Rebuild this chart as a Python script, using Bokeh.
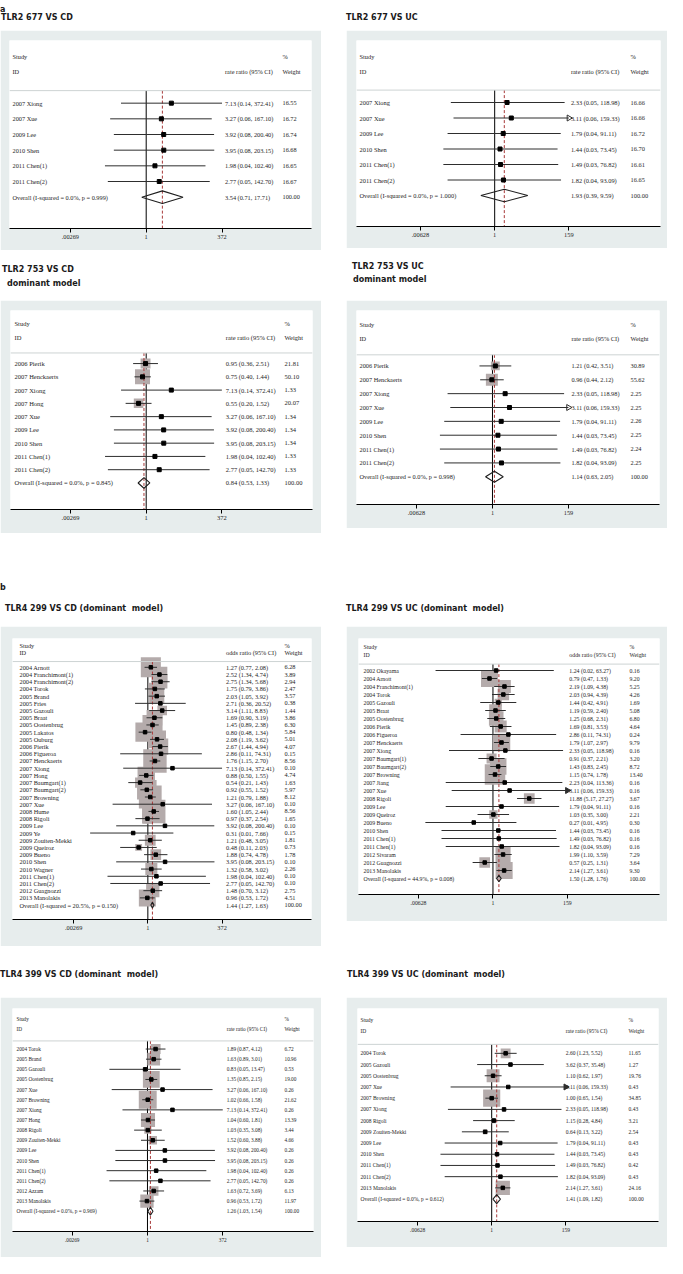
import numpy as np
from bokeh.plotting import figure
from bokeh.models import (Range1d, FixedTicker, CustomJSTickFormatter, ColumnDataSource,
                          Div, Spacer, Span)
from bokeh.layouts import column, row
from bokeh.core.properties import value
from bokeh.embed import file_html
from bokeh.resources import INLINE

# ---------------- data ----------------
# TLR2 677 VS CD
p1_study = ["2007 Xiong", "2007 Xue", "2009 Lee", "2010 Shen", "2011 Chen(1)", "2011 Chen(2)"]
p1_es = [7.13, 3.27, 3.92, 3.95, 1.98, 2.77]
p1_lo = [0.14, 0.06, 0.08, 0.08, 0.04, 0.05]
p1_hi = [372.41, 167.10, 200.40, 203.15, 102.40, 142.70]
p1_w = [16.55, 16.72, 16.74, 16.68, 16.65, 16.67]
p1_overall = [3.54, 0.71, 17.71]
p1_het = [0.0, 0.999]

# TLR2 677 VS UC
p2_study = ["2007 Xiong", "2007 Xue", "2009 Lee", "2010 Shen", "2011 Chen(1)", "2011 Chen(2)"]
p2_es = [2.33, 3.11, 1.79, 1.44, 1.49, 1.82]
p2_lo = [0.05, 0.06, 0.04, 0.03, 0.03, 0.04]
p2_hi = [118.98, 159.33, 91.11, 73.45, 76.82, 93.09]
p2_w = [16.66, 16.66, 16.72, 16.70, 16.61, 16.65]
p2_overall = [1.93, 0.39, 9.59]
p2_het = [0.0, 1.000]

# TLR2 753 VS CD
p3_study = ["2006 Pierik", "2007 Henckaerts", "2007 Xiong", "2007 Hong", "2007 Xue", "2009 Lee",
            "2010 Shen", "2011 Chen(1)", "2011 Chen(2)"]
p3_es = [0.95, 0.75, 7.13, 0.55, 3.27, 3.92, 3.95, 1.98, 2.77]
p3_lo = [0.36, 0.40, 0.14, 0.20, 0.06, 0.08, 0.08, 0.04, 0.05]
p3_hi = [2.51, 1.44, 372.41, 1.52, 167.10, 200.40, 203.15, 102.40, 142.70]
p3_w = [21.81, 50.10, 1.33, 20.07, 1.34, 1.34, 1.34, 1.33, 1.33]
p3_overall = [0.84, 0.53, 1.33]
p3_het = [0.0, 0.845]

# TLR2 753 VS UC
p4_study = ["2006 Pierik", "2007 Henckaerts", "2007 Xiong", "2007 Xue", "2009 Lee", "2010 Shen",
            "2011 Chen(1)", "2011 Chen(2)"]
p4_es = [1.21, 0.96, 2.33, 3.11, 1.79, 1.44, 1.49, 1.82]
p4_lo = [0.42, 0.44, 0.05, 0.06, 0.04, 0.03, 0.03, 0.04]
p4_hi = [3.51, 2.12, 118.98, 159.33, 91.11, 73.45, 76.82, 93.09]
p4_w = [30.89, 55.62, 2.25, 2.25, 2.26, 2.25, 2.24, 2.25]
p4_overall = [1.14, 0.63, 2.05]
p4_het = [0.0, 0.998]

# TLR4 299 VS CD
p5_study = ["2004 Arnott", "2004 Franchimont(1)", "2004 Franchimont(2)", "2004 Torok", "2005 Brand",
            "2005 Fries", "2005 Gazouli", "2005 Braat", "2005 Oostenbrug", "2005 Lakatos",
            "2005 Ouburg", "2006 Pierik", "2006 Figueroa", "2007 Henckaerts", "2007 Xiong",
            "2007 Hong", "2007 Baumgart(1)", "2007 Baumgart(2)", "2007 Browning", "2007 Xue",
            "2008 Hume", "2008 Rigoli", "2009 Lee", "2009 Ye", "2009 Zouiten-Mekki",
            "2009 Queiroz", "2009 Bueno", "2010 Shen", "2010 Wagner", "2011 Chen(1)",
            "2011 Chen(2)", "2012 Guagnozzi", "2013 Manolakis"]
p5_es = [1.27, 2.52, 2.75, 1.75, 2.03, 2.71, 3.14, 1.69, 1.45, 0.80, 2.08, 2.67, 2.86, 1.76, 7.13,
         0.88, 0.54, 0.92, 1.21, 3.27, 1.60, 0.97, 3.92, 0.31, 1.21, 0.48, 1.88, 3.95, 1.32, 1.98,
         2.77, 1.48, 0.96]
p5_lo = [0.77, 1.34, 1.34, 0.79, 1.05, 0.36, 1.11, 0.90, 0.89, 0.48, 1.19, 1.44, 0.11, 1.15, 0.14,
         0.50, 0.21, 0.55, 0.79, 0.06, 1.05, 0.37, 0.08, 0.01, 0.48, 0.11, 0.74, 0.08, 0.58, 0.04,
         0.05, 0.70, 0.53]
p5_hi = [2.08, 4.74, 5.68, 3.86, 3.92, 20.52, 8.83, 3.19, 2.38, 1.34, 3.62, 4.94, 74.31, 2.70,
         372.41, 1.55, 1.43, 1.52, 1.88, 167.10, 2.44, 2.54, 200.40, 7.66, 3.05, 2.03, 4.78,
         203.15, 3.02, 102.40, 142.70, 3.12, 1.72]
p5_w = [6.28, 3.89, 2.94, 2.47, 3.57, 0.38, 1.44, 3.86, 6.30, 5.84, 5.01, 4.07, 0.15, 8.56, 0.10,
        4.74, 1.63, 5.97, 8.12, 0.10, 8.56, 1.65, 0.10, 0.15, 1.81, 0.73, 1.78, 0.10, 2.26, 0.10,
        0.10, 2.75, 4.51]
p5_overall = [1.44, 1.27, 1.63]
p5_het = [20.5, 0.150]

# TLR4 299 VS UC
p6_study = ["2002 Okayama", "2004 Arnott", "2004 Franchimont(1)", "2004 Torok", "2005 Gazouli",
            "2005 Braat", "2005 Oostenbrug", "2006 Pierik", "2006 Figueroa", "2007 Henckaerts",
            "2007 Xiong", "2007 Baumgart(1)", "2007 Baumgart(2)", "2007 Browning", "2007 Jiang",
            "2007 Xue", "2008 Rigoli", "2009 Lee", "2009 Queiroz", "2009 Bueno", "2010 Shen",
            "2011 Chen(1)", "2011 Chen(1)", "2012 Sivaram", "2012 Guagnozzi", "2013 Manolakis"]
p6_es = [1.24, 0.79, 2.19, 2.03, 1.44, 1.19, 1.25, 1.69, 2.86, 1.79, 2.33, 0.91, 1.43, 1.15, 2.23,
         3.11, 11.88, 1.79, 1.03, 0.27, 1.44, 1.49, 1.82, 1.99, 0.57, 2.14]
p6_lo = [0.02, 0.47, 1.09, 0.94, 0.42, 0.59, 0.68, 0.81, 0.11, 1.07, 0.05, 0.37, 0.83, 0.74, 0.04,
         0.06, 5.17, 0.04, 0.35, 0.01, 0.03, 0.03, 0.04, 1.10, 0.25, 1.27]
p6_hi = [63.27, 1.33, 4.38, 4.39, 4.91, 2.40, 2.31, 3.53, 74.31, 2.97, 118.98, 2.21, 2.45, 1.78,
         113.36, 159.33, 27.27, 91.11, 3.00, 4.95, 73.45, 76.82, 93.09, 3.59, 1.31, 3.61]
p6_w = [0.16, 9.20, 5.25, 4.26, 1.69, 5.08, 6.80, 4.64, 0.24, 9.79, 0.16, 3.20, 8.72, 13.40, 0.16,
        0.16, 3.67, 0.16, 2.21, 0.30, 0.16, 0.16, 0.16, 7.29, 3.64, 9.30]
p6_overall = [1.50, 1.28, 1.76]
p6_het = [44.9, 0.008]

# TLR4 399 VS CD
p7_study = ["2004 Torok", "2005 Brand", "2005 Gazouli", "2005 Oostenbrug", "2007 Xue",
            "2007 Browning", "2007 Xiong", "2007 Hong", "2008 Rigoli", "2009 Zouiten-Mekki",
            "2009 Lee", "2010 Shen", "2011 Chen(1)", "2011 Chen(2)", "2012 Azzam", "2013 Manolakis"]
p7_es = [1.89, 1.63, 0.83, 1.35, 3.27, 1.02, 7.13, 1.04, 1.03, 1.52, 3.92, 3.95, 1.98, 2.77, 1.63, 0.96]
p7_lo = [0.87, 0.89, 0.05, 0.85, 0.06, 0.66, 0.14, 0.60, 0.35, 0.60, 0.08, 0.08, 0.04, 0.05, 0.72, 0.53]
p7_hi = [4.12, 3.01, 13.47, 2.15, 167.10, 1.58, 372.41, 1.81, 3.08, 3.88, 200.40, 203.15, 102.40,
         142.70, 3.69, 1.72]
p7_w = [6.72, 10.96, 0.53, 19.00, 0.26, 21.62, 0.26, 13.39, 3.44, 4.66, 0.26, 0.26, 0.26, 0.26,
        6.13, 11.97]
p7_overall = [1.26, 1.03, 1.54]
p7_het = [0.0, 0.969]

# TLR4 399 VS UC
p8_study = ["2004 Torok", "2005 Gazouli", "2005 Oostenbrug", "2007 Xue", "2007 Browning",
            "2007 Xiong", "2008 Rigoli", "2009 Zouiten-Mekki", "2009 Lee", "2010 Shen",
            "2011 Chen(1)", "2011 Chen(2)", "2013 Manolakis"]
p8_es = [2.60, 3.62, 1.10, 3.11, 1.00, 2.33, 1.15, 0.64, 1.79, 1.44, 1.49, 1.82, 2.14]
p8_lo = [1.23, 0.37, 0.62, 0.06, 0.65, 0.05, 0.28, 0.13, 0.04, 0.03, 0.03, 0.04, 1.27]
p8_hi = [5.52, 35.48, 1.97, 159.33, 1.54, 118.98, 4.84, 3.22, 91.11, 73.45, 76.82, 93.09, 3.61]
p8_w = [11.65, 1.27, 19.76, 0.43, 34.85, 0.43, 3.21, 2.54, 0.43, 0.43, 0.42, 0.43, 24.16]
p8_overall = [1.41, 1.09, 1.82]
p8_het = [0.0, 0.612]

titles = ["TLR2 677 VS CD", "TLR2 677 VS UC",
          ["TLR2 753 VS CD", "dominant model"], ["TLR2 753 VS UC", "dominant model"],
          "TLR4 299 VS CD (dominant  model)", "TLR4 299 VS UC (dominant  model)",
          "TLR4 399 VS CD (dominant  model)", "TLR4 399 VS UC (dominant  model)"]
measures = ["rate ratio (95% CI)", "rate ratio (95% CI)", "rate ratio (95% CI)", "rate ratio (95% CI)",
            "odds ratio (95% CI)", "odds ratio (95% CI)", "rate ratio (95% CI)", "rate ratio (95% CI)"]

# ---------------- styles ----------------
GRAY = "#e7eded"
BOX = "#b4abab"
SERIF = "Liberation Serif"


def forest(study, es, lo, hi, w, overall, het, measure, width, height, bl, br, bt, bb,
           L, R, fs, box_k, pt, arrow, arrow_fill, pad_l, pad_es, gap_w):
    n = len(study)
    M = max(hi)
    es = np.array(es); lo = np.array(lo); hi = np.array(hi); w = np.array(w)
    y = np.arange(n)
    bottom = n + 2
    p = figure(width=width, height=height, x_axis_type="log",
               x_range=Range1d(10 ** -L, 10 ** R), y_range=Range1d(bottom, -4),
               output_backend="svg", toolbar_location=None, title=None,
               y_axis_location=None, min_border_left=bl, min_border_right=br,
               min_border_top=bt, min_border_bottom=bb,
               background_fill_color="white", border_fill_color=GRAY,
               outline_line_color=None, margin=0)
    p.grid.grid_line_color = None
    frame_w = width - bl - br
    pxdec = frame_w / (L + R)

    def xpix(px):
        return 10 ** (-L + px / pxdec)

    # header separator
    p.add_layout(Span(location=-0.8, dimension="width", line_color="#cdd3d3", line_width=1))
    # null line
    p.segment(x0=[1], y0=[-0.8], x1=[1], y1=[bottom], line_color="black", line_width=1)
    # boxes
    if box_k > 0:
        p.scatter(x=es, y=y, size=box_k * np.sqrt(w), marker="square",
                  fill_color=BOX, line_color=None)
    # overall dashed line
    p.segment(x0=[overall[0]], y0=[-0.8], x1=[overall[0]], y1=[bottom],
              line_color="#a83a3a", line_width=1, line_dash="3 2")
    # CIs
    p.segment(x0=lo, y0=y, x1=hi, y1=y, line_color="#2e2e2e", line_width=1)
    if arrow:
        sel = hi >= M
        p.scatter(x=hi[sel], y=y[sel], marker="triangle", angle=-np.pi / 2, size=6,
                  line_color="#2e2e2e", fill_color="#2e2e2e" if arrow_fill else None,
                  line_width=1)
    # point estimates
    p.scatter(x=es, y=y, marker="square", size=pt, color="black")
    # overall diamond
    o_es, o_lo, o_hi = overall
    p.patch(x=[o_lo, o_es, o_hi, o_es], y=[n, n - 0.4, n, n + 0.4],
            fill_alpha=0, line_color="#1e1e1e", line_width=1.1)

    # text columns
    labels = list(study) + ["Overall  (I-squared = %.1f%%, p = %.3f)" % (het[0], het[1])]
    es_txt = ["%.2f (%.2f, %.2f)" % (a, b, c) for a, b, c in zip(es, lo, hi)] + \
             ["%.2f (%.2f, %.2f)" % tuple(overall)]
    w_txt = ["%.2f" % v for v in w] + ["100.00"]
    rows = list(range(n + 1))
    x_lab = xpix(pad_l)
    x_es = M * 10 ** (pad_es / pxdec)
    x_w = xpix(frame_w - gap_w)
    src = ColumnDataSource(dict(
        x=[x_lab] * (n + 1) + [x_es] * (n + 1) + [x_w] * (n + 1) + [x_lab, x_lab, x_es, x_w, x_w],
        y=rows * 3 + [-3, -2, -2, -3, -2],
        t=labels + es_txt + w_txt + ["Study", "ID", measure, "%", "Weight"]))
    p.text(x="x", y="y", text="t", source=src, text_font=value(SERIF),
           text_font_size=value("%.1fpx" % fs), text_align="left", text_baseline="middle",
           text_color="#1e1e1e")

    # axis
    ax = p.xaxis[0]
    ax.ticker = FixedTicker(ticks=[1 / M, 1, M], minor_ticks=[])
    ax.formatter = CustomJSTickFormatter(code="""
        if (Math.abs(tick - 1) < 1e-9) { return "1"; }
        if (tick < 1) { return tick.toPrecision(3).replace(/^0/, ""); }
        return Math.round(tick).toString();
    """)
    ax.axis_line_color = "black"
    ax.major_tick_line_color = "black"
    ax.major_tick_out = 4
    ax.major_tick_in = 0
    ax.minor_tick_out = 0
    ax.minor_tick_in = 0
    ax.major_label_standoff = 2
    ax.major_label_text_font = SERIF
    ax.major_label_text_font_size = "%.1fpx" % fs
    ax.major_label_text_color = "#1e1e1e"
    return p


panel_data = [
    (p1_study, p1_es, p1_lo, p1_hi, p1_w, p1_overall, p1_het),
    (p2_study, p2_es, p2_lo, p2_hi, p2_w, p2_overall, p2_het),
    (p3_study, p3_es, p3_lo, p3_hi, p3_w, p3_overall, p3_het),
    (p4_study, p4_es, p4_lo, p4_hi, p4_w, p4_overall, p4_het),
    (p5_study, p5_es, p5_lo, p5_hi, p5_w, p5_overall, p5_het),
    (p6_study, p6_es, p6_lo, p6_hi, p6_w, p6_overall, p6_het),
    (p7_study, p7_es, p7_lo, p7_hi, p7_w, p7_overall, p7_het),
    (p8_study, p8_es, p8_lo, p8_hi, p8_w, p8_overall, p8_het),
]
# width, height, bl, br, bt, bb, L, R, fs, box_k, pt, arrow, arrow_fill, pad_l, pad_es, gap_w
panel_style = [
    (321, 220, 9, 10, 10, 22, 4.635, 5.605, 6.3, 0, 4, False, False, 3, 3, 29),
    (321, 218, 10, 7, 10, 21, 4.10, 4.92, 6.4, 0, 4, True, False, 3, 2, 30),
    (321, 233, 10, 9, 10, 24, 4.61, 5.65, 6.5, 2.12, 4, False, False, 4, 4, 28),
    (321, 228, 10, 8, 10, 23, 3.94, 4.84, 6.3, 1.6, 4, True, False, 3, 3, 29),
    (321, 320, 12, 10, 12, 27, 4.69, 5.67, 6.3, 8.0, 3.5, False, False, 7, 4, 27),
    (321, 295, 12, 8, 12, 27, 3.98, 4.93, 5.8, 5.6, 3.5, True, True, 5, 2, 30),
    (321, 260, 12, 8, 11, 26, 4.61, 5.67, 5.3, 3.85, 3.5, False, False, 4, 4, 29),
    (321, 250, 11, 9, 11, 26, 3.99, 4.96, 5.5, 2.9, 3.5, True, True, 3, 0, 30),
]

figs = []
for d, m, s in zip(panel_data, measures, panel_style):
    figs.append(forest(*d, m, *s))


def title_div(lines, height, center1, lh, pads, width=321):
    if isinstance(lines, str):
        lines = [lines]
    top = max(center1 - lh / 2.0, 0)
    inner = "".join(
        '<div style="padding-left:%dpx;height:%.1fpx;line-height:%.1fpx;white-space:pre">%s</div>'
        % (pd, lh, lh, t) for t, pd in zip(lines, pads))
    html = ('<div style="padding-top:%.1fpx;font-family:\'DejaVu Sans\';font-weight:bold;'
            'font-size:8px;color:#1a1a1a">%s</div>' % (top, inner))
    return Div(text=html, width=width, height=height, margin=0)


def gap(h):
    return Spacer(width=25, height=h, margin=0)


layout = column(
    title_div("a", 8, 4, 8, [0], width=667),
    row(title_div(titles[0], 22, 6, 12, [1]), gap(22), title_div(titles[1], 22, 6, 12, [0])),
    row(figs[0], gap(220), figs[1]),
    row(title_div(titles[2], 50, 19.7, 14, [2, 7]), gap(50),
        title_div(titles[3], 50, 16.3, 13.4, [6, 7])),
    row(figs[2], gap(233), figs[3]),
    title_div("b", 63, 55.3, 10, [0], width=667),
    row(title_div(titles[4], 30, 13, 12, [5]), gap(30), title_div(titles[5], 30, 13, 12, [0])),
    row(figs[4], gap(320), figs[5]),
    row(title_div(titles[6], 51, 28.7, 12, [0]), gap(51), title_div(titles[7], 51, 28.7, 12, [1])),
    row(figs[6], gap(260), figs[7]),
    spacing=0, margin=0,
)

open("out.html", "w").write(file_html(layout, INLINE))
